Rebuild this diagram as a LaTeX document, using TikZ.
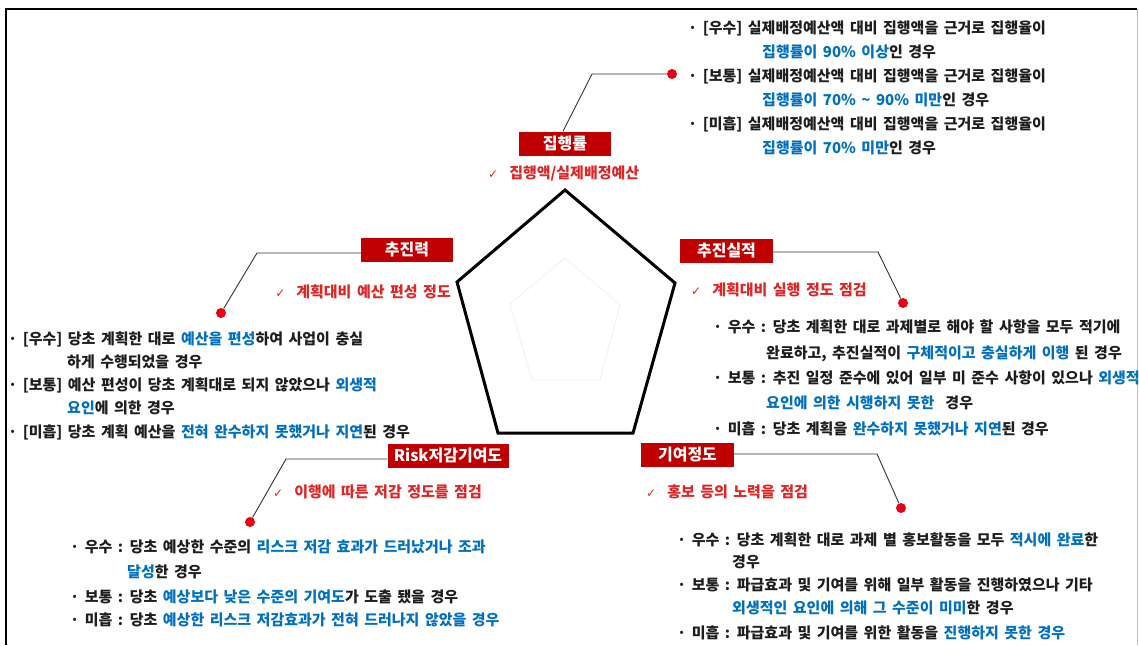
\documentclass[tikz,border=0pt]{standalone}
\usepackage{fontspec}
\setmainfont{Noto Sans CJK KR}[WordSpace=1.6]
\newfontfamily\symf{DejaVu Sans}
\definecolor{kred}{RGB}{192,0,0}
\definecolor{ckred}{RGB}{222,38,38}
\definecolor{kblue}{RGB}{0,112,192}
\definecolor{ktext}{RGB}{30,30,30}
\definecolor{dotred}{RGB}{232,0,20}
\newcommand{\blu}[1]{\textcolor{kblue}{#1}}
\newcommand{\ck}{{\symf\fontsize{12}{14}\selectfont ✓}\ \ }
\tikzset{
 lbl/.style={fill=kred, text=white, font=\fontsize{16}{18}\selectfont\bfseries, minimum height=24, inner sep=0pt, anchor=center},
 chk/.style={text=ckred, font=\fontsize{15}{17}\selectfont\bfseries, inner sep=0pt, anchor=base west},
 body/.style={text=ktext, font=\fontsize{15}{17}\selectfont\bfseries, inner sep=0pt, anchor=base west},
 conn/.style={draw=black!80, line width=0.9},
 rdot/.style={circle, fill=dotred, minimum size=10, inner sep=0pt},
}
\begin{document}
\begin{tikzpicture}[x=1pt,y=-1pt]
\useasboundingbox (0,0) rectangle (1139,645);
\fill[white] (0,0) rectangle (1139,645);
% frame
\draw[line width=2.5] (6,645) -- (6,9) -- (1137,9);
\draw[gray!50, line width=1] (1137,9) -- (1137,645);
% pentagons
\draw[gray!12, line width=0.8] (565,258) -- (620,305) -- (600,380) -- (532,380) -- (510,304) -- cycle;
\draw[black, line width=3, line join=miter] (565,190) -- (675,283) -- (633,433) -- (498,433) -- (457,282) -- cycle;

% ---- top: 집행률
\node[lbl, minimum width=92] (jh) at (565,143.5) {집행률};
\node[chk] (jhc) at (488,178.5) {\ck 집행액/실제배정예산};
\node[rdot] (jhd) at (672,74) {};
\coordinate (jhb) at (592,74);
\draw[conn] ([xshift=-2pt]jh.north) -- (jhb) -- (jhd);
\node[body] (t1) at (688,33.5) {· [우수] 실제배정예산액 대비 집행액을 근거로 집행율이};
\node[body] (t2) at (762,57.5) {\blu{집행률이 90\% 이상}인 경우};
\node[body] (t3) at (688,81.5) {· [보통] 실제배정예산액 대비 집행액을 근거로 집행율이};
\node[body] (t4) at (762,105.5) {\blu{집행률이 70\% \textasciitilde{} 90\% 미만}인 경우};
\node[body] (t5) at (688,129.5) {· [미흡] 실제배정예산액 대비 집행액을 근거로 집행율이};
\node[body] (t6) at (762,153.5) {\blu{집행률이 70\% 미만}인 경우};

% ---- left: 추진력
\node[lbl, minimum width=92] (cj) at (407,249.5) {추진력};
\node[chk, anchor=base east] (cjc) at (451,297.5) {\ck 계획대비 예산 편성 정도};
\node[rdot] (cjd) at (221,313) {};
\coordinate (cjb) at (257,253);
\draw[conn] (cj.west |- cjb) -- (cjb) -- (cjd);
\node[body] (l1) at (8,344.5) {· [우수] 당초 계획한 대로 \blu{예산을 편성}하여 사업이 충실};
\node[body] (l2) at (67,367.5) {하게 수행되었을 경우};
\node[body] (l3) at (8,390.5) {· [보통] 예산 편성이 당초 계획대로 되지 않았으나 \blu{외생적}};
\node[body] (l4) at (67,413.5) {\blu{요인}에 의한 경우};
\node[body] (l5) at (8,437.5) {· [미흡] 당초 계획 예산을 \blu{전혀 완수하지 못했거나 지연}된 경우};

% ---- right: 추진실적
\node[lbl, minimum width=93] (cs) at (726.5,250.5) {추진실적};
\node[chk] (csc) at (691,295.5) {\ck 계획대비 실행 정도 점검};
\node[rdot] (csd) at (903,303) {};
\coordinate (csb) at (878,252);
\draw[conn] (cs.east |- csb) -- (csb) -- (csd);
\node[body] (r1) at (713,332.5) {· 우수 : 당초 계획한 대로 과제별로 해야 할 사항을 모두 적기에};
\node[body] (r2) at (766,358.5) {완료하고, 추진실적이 \blu{구체적이고 충실하게 이행} 된 경우};
\node[body] (r3) at (713,383.5) {· 보통 : 추진 일정 준수에 있어 일부 미 준수 사항이 있으나 \blu{외생적}};
\node[body] (r4) at (766,408.5) {\blu{요인에 의한 시행하지 못한}\ \ 경우};
\node[body] (r5) at (713,434.5) {· 미흡 : 당초 계획을 \blu{완수하지 못했거나 지연}된 경우};

% ---- bottom left: Risk저감기여도
\node[lbl, minimum width=121] (rk) at (448,456) {Risk저감기여도};
\node[chk] (rkc) at (273,497.5) {\ck 이행에 따른 저감 정도를 점검};
\node[rdot] (rkd) at (250,522) {};
\coordinate (rkb) at (286,459);
\draw[conn] (rk.west |- rkb) -- (rkb) -- (rkd);
\node[body] (b1) at (70,552.5) {· 우수 : 당초 예상한 수준의 \blu{리스크 저감 효과가 드러났거나 조과}};
\node[body] (b2) at (127,577.5) {\blu{달성}한 경우};
\node[body] (b3) at (70,602.5) {· 보통 : 당초 \blu{예상보다 낮은 수준의 기여도}가 도출 됐을 경우};
\node[body] (b4) at (70,625.5) {· 미흡 : 당초 \blu{예상한 리스크 저감효과가 전혀 드러나지 않았을 경우}};

% ---- bottom right: 기여정도
\node[lbl, minimum width=93] (gy) at (687.5,454.5) {기여정도};
\node[chk] (gyc) at (646,497.5) {\ck 홍보 등의 노력을 점검};
\node[rdot] (gyd) at (901,508) {};
\coordinate (gyb) at (877,454);
\draw[conn] (gy.east |- gyb) -- (gyb) -- (gyd);
\node[body] (g1) at (677,545.5) {· 우수 : 당초 계획한 대로 과제 별 홍보활동을 모두 \blu{적시에 완료}한};
\node[body] (g2) at (732,567.5) {경우};
\node[body] (g3) at (677,590.5) {· 보통 : 파급효과 및 기여를 위해 일부 활동을 진행하였으나 기타};
\node[body] (g4) at (732,613.5) {\blu{외생적인 요인에 의해 그 수준이 미미}한 경우};
\node[body] (g5) at (677,638.5) {· 미흡 : 파급효과 및 기여를 위한 활동을 \blu{진행하지 못한 경우}};
\end{tikzpicture}
\end{document}
